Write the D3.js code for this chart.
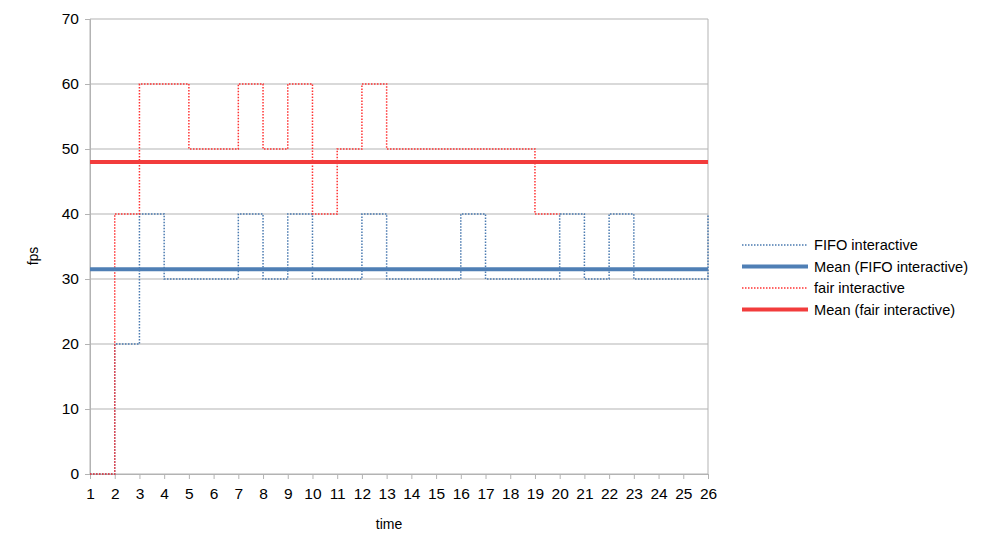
<!DOCTYPE html>
<html><head><meta charset="utf-8">
<script src="https://cdn.jsdelivr.net/npm/d3@7"></script>
<style>body{margin:0;background:#fff}text{font-family:"Liberation Sans",Arial,sans-serif}</style>
</head><body><svg id="c" width="986" height="555"></svg>
<script>
const times = d3.range(1, 27);
const fifo = [0,20,40,30,30,30,40,30,40,30,30,40,30,30,30,40,30,30,30,40,30,40,30,30,30,40];
const fair = [0,40,60,60,50,50,60,50,60,40,50,60,50,50,50,50,50,50,40,40];
const fifoMean = 31.5, fairMean = 48;
const yTicks = [0,10,20,30,40,50,60,70];

const svg = d3.select('#c');
const x = d3.scaleLinear().domain([1, 26]).range([90, 708]);
const y = d3.scaleLinear().domain([0, 70]).range([474, 19]);

// grid
svg.append('g').selectAll('line').data(yTicks).join('line')
    .attr('x1', 90).attr('x2', 708).attr('y1', d => y(d)).attr('y2', d => y(d))
    .attr('stroke', '#b3b3b3').attr('stroke-width', 1);
svg.append('line').attr('x1', 90).attr('x2', 90).attr('y1', 19).attr('y2', 474).attr('stroke', '#b3b3b3');
svg.append('line').attr('x1', 708).attr('x2', 708).attr('y1', 19).attr('y2', 474).attr('stroke', '#b3b3b3');

const ya = svg.append('g').attr('transform', 'translate(90,0)')
    .call(d3.axisLeft(y).tickValues(yTicks).tickSize(5).tickPadding(6));
const xa = svg.append('g').attr('transform', 'translate(0,474)')
    .call(d3.axisBottom(x).tickValues(times).tickSize(5).tickPadding(9));
[ya, xa].forEach(a => {
    a.select('.domain').attr('stroke', '#b3b3b3');
    a.selectAll('.tick line').attr('stroke', '#b3b3b3');
    a.selectAll('text').attr('font-size', 15.5).attr('fill', '#000').attr('font-family', 'Liberation Sans, Arial');
});

svg.append('text').attr('x', 389).attr('y', 529).attr('text-anchor', 'middle').attr('font-size', 14).text('time');
svg.append('text').attr('transform', 'translate(38,256) rotate(-90)').attr('text-anchor', 'middle').attr('font-size', 14).text('fps');

const line = d3.line().x((d, i) => x(times[i])).y(d => y(d)).curve(d3.curveStepAfter);
svg.append('path').datum(fifo).attr('d', line).attr('fill', 'none')
    .attr('stroke', '#4a7ab0').attr('stroke-width', 1.5).attr('stroke-dasharray', '1.5,1.5');
svg.append('path').datum(fair).attr('d', line).attr('fill', 'none')
    .attr('stroke', '#ff3333').attr('stroke-width', 1.5).attr('stroke-dasharray', '1.5,1.5');
svg.append('line').attr('x1', x(1)).attr('x2', x(26)).attr('y1', y(fifoMean)).attr('y2', y(fifoMean))
    .attr('stroke', '#4f7fb5').attr('stroke-width', 4);
svg.append('line').attr('x1', x(1)).attr('x2', x(26)).attr('y1', y(fairMean)).attr('y2', y(fairMean))
    .attr('stroke', '#f23c3c').attr('stroke-width', 4);

const legend = [
    {name: 'FIFO interactive', color: '#4a7ab0', dash: '1.5,1.5', w: 1.5},
    {name: 'Mean (FIFO interactive)', color: '#4f7fb5', dash: null, w: 4},
    {name: 'fair interactive', color: '#ff3333', dash: '1.5,1.5', w: 1.5},
    {name: 'Mean (fair interactive)', color: '#f23c3c', dash: null, w: 4}
];
const lg = svg.append('g').selectAll('g').data(legend).join('g')
    .attr('transform', (d, i) => `translate(742,${245 + i * 21.5})`);
lg.append('line').attr('x1', 0).attr('x2', 66)
    .attr('stroke', d => d.color).attr('stroke-width', d => d.w).attr('stroke-dasharray', d => d.dash);
lg.append('text').attr('x', 72).attr('y', 5).attr('font-size', 14.6).text(d => d.name);
</script></body></html>
